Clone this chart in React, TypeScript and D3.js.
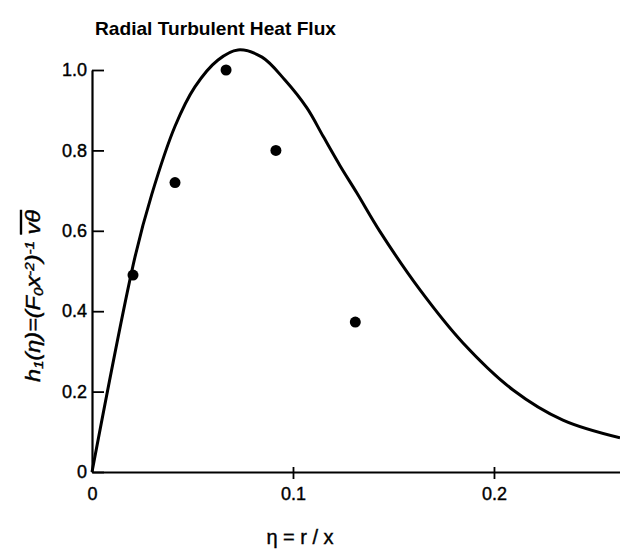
import React, { useEffect, useRef } from 'react';
import { select, scaleLinear, axisLeft, axisBottom, line, curveCatmullRom } from 'd3';

// solid curve
const curveEta = [0, 0.0214, 0.0297, 0.0413, 0.0512, 0.0627, 0.0726, 0.0846, 0.096, 0.107, 0.115, 0.1234, 0.1318, 0.1433, 0.1632, 0.1846, 0.2095, 0.2343, 0.2627];
const curveH = [0, 0.535, 0.69, 0.86, 0.958, 1.025, 1.05, 1.032, 0.975, 0.905, 0.835, 0.762, 0.694, 0.598, 0.453, 0.321, 0.204, 0.129, 0.085];

// measured points
const pointEta = [0.0204, 0.0413, 0.0667, 0.0915, 0.131];
const pointH = [0.49, 0.72, 1.0, 0.8, 0.373];

const xTicks = [0, 0.1, 0.2];
const xTickLabels = ['0', '0.1', '0.2'];
const yTicks = [0, 0.2, 0.4, 0.6, 0.8, 1.0];
const yTickLabels = ['0', '0.2', '0.4', '0.6', '0.8', '1.0'];

const FONT = "'Liberation Sans Narrow', 'Liberation Sans', Arial, sans-serif";

const App = () => {
    const ref = useRef<SVGSVGElement>(null);

    useEffect(() => {
        const svg = select(ref.current);
        svg.selectAll('*').remove();

        const x = scaleLinear().domain([0, 0.2627]).range([92, 620]);
        const y = scaleLinear().domain([0, 1]).range([472, 70]);

        // title
        svg.append('text')
            .attr('x', 95)
            .attr('y', 35)
            .attr('font-family', FONT)
            .attr('font-weight', 'bold')
            .attr('font-size', 19)
            .attr('textLength', 241)
            .attr('lengthAdjust', 'spacingAndGlyphs')
            .text('Radial Turbulent Heat Flux');

        // y axis, ticks pointing inward
        const yAxis = axisLeft(y)
            .tickValues(yTicks)
            .tickSizeInner(-12)
            .tickSizeOuter(0)
            .tickPadding(5)
            .tickFormat((d, i) => yTickLabels[i]);
        const gy = svg.append('g')
            .attr('transform', `translate(${x(0)},0)`)
            .call(yAxis);
        gy.select('.domain').attr('stroke-width', 2.2);
        gy.selectAll('line').attr('stroke-width', 1.8);
        gy.selectAll('text')
            .attr('font-family', FONT)
            .attr('font-size', 18)
            .attr('stroke', '#000')
            .attr('stroke-width', 0.4)
            .attr('fill', '#000');

        // x axis, ticks crossing the line
        const xAxis = axisBottom(x)
            .tickValues(xTicks)
            .tickSizeInner(7)
            .tickSizeOuter(0)
            .tickPadding(8)
            .tickFormat((d, i) => xTickLabels[i]);
        const gx = svg.append('g')
            .attr('transform', `translate(0,${y(0)})`)
            .call(xAxis);
        gx.select('.domain').attr('stroke-width', 2.2);
        gx.selectAll('line')
            .attr('y1', -5)
            .attr('stroke-width', 1.8)
            .attr('opacity', (d) => (d === 0 ? 0 : 1));
        gx.selectAll('text')
            .attr('font-family', FONT)
            .attr('font-size', 18)
            .attr('stroke', '#000')
            .attr('stroke-width', 0.4)
            .attr('fill', '#000');

        // curve
        const curveData = curveEta.map((e, i) => [e, curveH[i]] as [number, number]);
        const path = line<[number, number]>()
            .x((d) => x(d[0]))
            .y((d) => y(d[1]))
            .curve(curveCatmullRom.alpha(0.5));
        svg.append('path')
            .datum(curveData)
            .attr('d', path)
            .attr('fill', 'none')
            .attr('stroke', '#000')
            .attr('stroke-width', 3);

        // points
        svg.append('g')
            .selectAll('circle')
            .data(pointEta.map((e, i) => ({ eta: e, h: pointH[i] })))
            .enter()
            .append('circle')
            .attr('cx', (d) => x(d.eta))
            .attr('cy', (d) => y(d.h))
            .attr('r', 5.5)
            .attr('fill', '#000');

        // y label
        const yl = svg.append('text')
            .attr('transform', 'translate(40,296) rotate(-90)')
            .attr('text-anchor', 'middle')
            .attr('font-family', FONT)
            .attr('font-style', 'italic')
            .attr('font-size', 20)
            .attr('stroke', '#000')
            .attr('stroke-width', 0.4)
            .attr('textLength', 172)
            .attr('lengthAdjust', 'spacingAndGlyphs');
        yl.append('tspan').text('h');
        yl.append('tspan').attr('font-size', 13).attr('baseline-shift', '-25%').text('1');
        yl.append('tspan').text('(η)=(F');
        yl.append('tspan').attr('font-size', 13).attr('baseline-shift', '-25%').text('0');
        yl.append('tspan').text('x');
        yl.append('tspan').attr('font-size', 13).attr('baseline-shift', '45%').text('-2');
        yl.append('tspan').text(')');
        yl.append('tspan').attr('font-size', 13).attr('baseline-shift', '45%').text('-1');
        yl.append('tspan').text(' ');
        yl.append('tspan').attr('text-decoration', 'overline').text('vθ');

        // x label
        svg.append('text')
            .attr('x', 300)
            .attr('y', 544)
            .attr('text-anchor', 'middle')
            .attr('font-family', FONT)
            .attr('font-size', 20)
            .attr('stroke', '#000')
            .attr('stroke-width', 0.4)
            .text('η = r / x');
    }, []);

    return (
        <svg ref={ref} width="620" height="559"
            style={{ position: 'absolute', left: 0, top: 0, background: '#fff' }}>
        </svg>
    );
};

export default App;
